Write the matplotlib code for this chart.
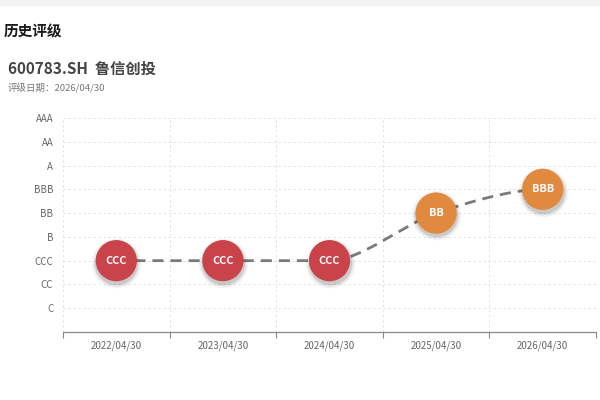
import matplotlib
matplotlib.use("Agg")
import matplotlib.pyplot as plt
from matplotlib.path import Path
from matplotlib.patches import PathPatch, Rectangle
import numpy as np

plt.rcParams["font.family"] = ["Noto Sans CJK SC", "DejaVu Sans"]

# data
rating_levels = ["C", "CC", "CCC", "B", "BB", "BBB", "A", "AA", "AAA"]
dates = ["2022/04/30", "2023/04/30", "2024/04/30", "2025/04/30", "2026/04/30"]
ratings = ["CCC", "CCC", "CCC", "BB", "BBB"]
title = "历史评级"
stock_name = "600783.SH  鲁信创投"
rating_date = "评级日期：2026/04/30"

RED = "#c8434a"
ORANGE = "#e0893f"
GRID = "#d8e4e8"


def point_color(r):
    return ORANGE if rating_levels.index(r) >= rating_levels.index("BB") else RED


def smooth_path(xs, ys, smooth=0.6):
    """Bezier path through the points, echarts-like monotone smoothing."""
    verts = [(xs[0], ys[0])]
    codes = [Path.MOVETO]
    n = len(xs)
    for i in range(n - 1):
        x0, y0 = xs[i], ys[i]
        x1, y1 = xs[i + 1], ys[i + 1]
        if i > 0 and ys[i - 1] != y0 and (y1 - y0) * (y0 - ys[i - 1]) > 0:
            d = (y1 - ys[i - 1]) / (x1 - xs[i - 1])
        else:
            d = 0.0
        if i + 2 < n and (ys[i + 2] - y1) * (y1 - y0) > 0:
            d2 = (ys[i + 2] - y0) / (xs[i + 2] - x0)
        else:
            d2 = 0.0
        dx = (x1 - x0) * smooth * 0.5
        verts += [(x0 + dx, y0 + d * dx), (x1 - dx, y1 - d2 * dx), (x1, y1)]
        codes += [Path.CURVE4] * 3
    return Path(verts, codes)


fig = plt.figure(figsize=(6, 4), dpi=100)
fig.patch.set_facecolor("white")
fig.patches.append(Rectangle((0, 0.988), 1, 0.012, transform=fig.transFigure,
                             color="#f0f2f4", zorder=0))

fig.text(4 / 600, 1 - 31 / 400, title, fontsize=10.5, fontweight="bold",
         color="#1a1a1a", va="center")
fig.text(8 / 600, 1 - 69 / 400, stock_name, fontsize=11, fontweight="bold",
         color="#444444", va="center")
fig.text(8 / 600, 1 - 88 / 400, rating_date, fontsize=6.8, color="#777777",
         va="center")

ax = fig.add_axes([63 / 600, 68 / 400, 533 / 600, 214 / 400])
ax.set_xlim(0, len(dates))
ax.set_ylim(-1, len(rating_levels) - 1)

x = np.arange(len(dates)) + 0.5
y = np.array([rating_levels.index(r) for r in ratings], dtype=float)

# grid
for yi in range(len(rating_levels)):
    ax.axhline(yi, color=GRID, lw=0.6, ls=(0, (3, 3)), zorder=0)
for xi in range(0, len(dates) + 1):
    ax.axvline(xi, color=GRID, lw=0.6, ls=(0, (3, 3)), zorder=0)

line = PathPatch(smooth_path(x, y), fill=False, edgecolor="#7a7a7a", lw=2,
                 ls=(0, (4, 2.5)), zorder=2, capstyle="butt")
ax.add_patch(line)

colors = [point_color(r) for r in ratings]
# soft shadow
for k, a in [(1.2, 0.05), (1.12, 0.08), (1.05, 0.14)]:
    ax.scatter(x, y - 0.1, s=880 * k * k, color="#3a2a2a", alpha=a,
               lw=0, zorder=3)
ax.scatter(x, y, s=880, color=colors, lw=0, zorder=4)
for xi, yi, r in zip(x, y, ratings):
    ax.text(xi, yi, r, ha="center", va="center", color="white",
            fontsize=7.8, fontweight="bold", zorder=5)

ax.set_yticks(range(len(rating_levels)))
ax.set_yticklabels(rating_levels)
ax.set_xticks(range(len(dates) + 1))
ax.set_xticklabels([])
ax.set_xticks(x, minor=True)
ax.set_xticklabels(dates, minor=True)
ax.tick_params(axis="x", which="major", length=4, color="#888888", width=0.8)
ax.tick_params(axis="x", which="minor", length=0, pad=6, labelsize=7,
               labelcolor="#666666")
ax.tick_params(axis="y", length=0, pad=7, labelsize=7, labelcolor="#666666")

for s in ["top", "right", "left"]:
    ax.spines[s].set_visible(False)
ax.spines["bottom"].set_color("#888888")
ax.spines["bottom"].set_linewidth(0.9)

fig.savefig("out.png", dpi=100)
